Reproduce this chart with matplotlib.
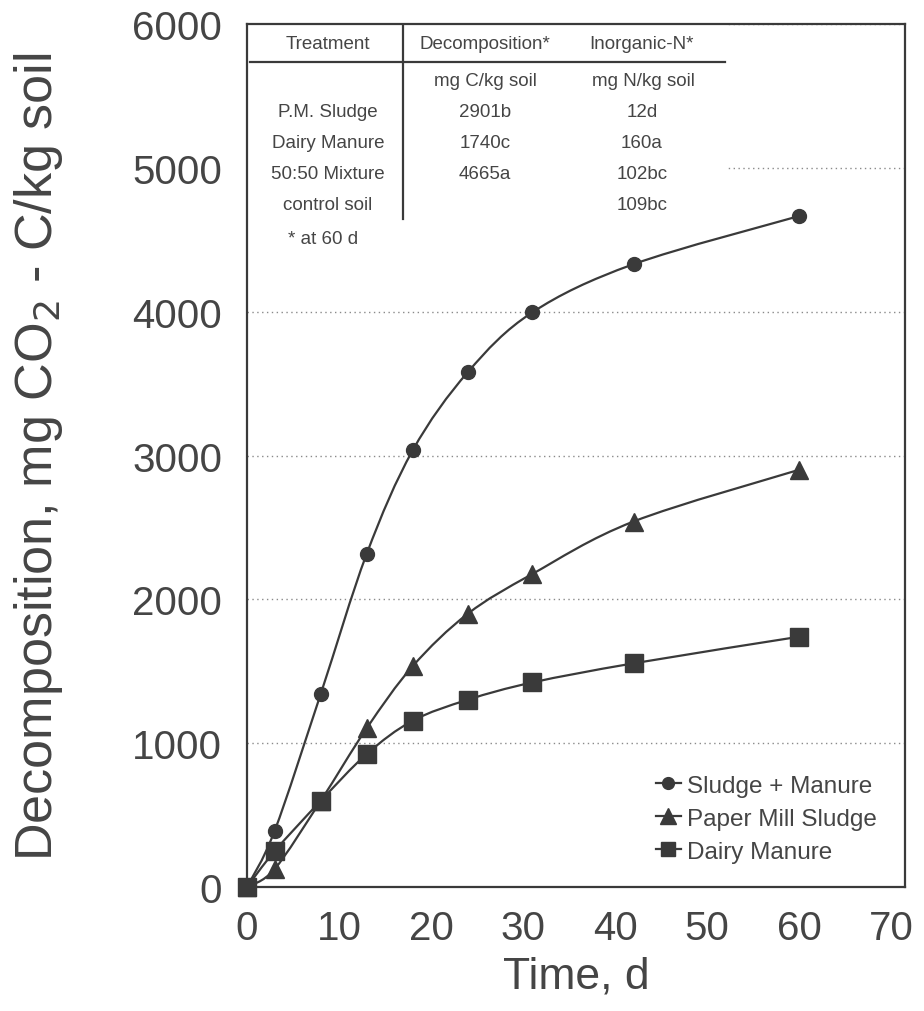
import numpy as np
import matplotlib
matplotlib.use('Agg')
import matplotlib.pyplot as plt
from matplotlib.path import Path
from matplotlib.patches import PathPatch, Rectangle
from matplotlib.lines import Line2D

plt.rcParams['font.family'] = ['Liberation Sans', 'DejaVu Sans']

# data
days = [0, 3, 8, 13, 18, 24, 31, 42, 60]
mix = [0, 390, 1340, 2315, 3035, 3580, 3995, 4330, 4665]
pm_sludge = [0, 125, 598, 1103, 1535, 1900, 2176, 2541, 2901]
dairy = [0, 249, 598, 924, 1156, 1302, 1422, 1555, 1740]
series_names = ['Sludge + Manure', 'Paper Mill Sludge', 'Dairy Manure']

yticks = [0, 1000, 2000, 3000, 4000, 5000, 6000]
xticks = [0, 10, 20, 30, 40, 50, 60, 70]

# inset table
tbl_header = ['Treatment', 'Decomposition*', 'Inorganic-N*']
tbl_units = ['', 'mg C/kg soil', 'mg N/kg soil']
tbl_treat = ['P.M. Sludge', 'Dairy Manure', '50:50 Mixture', 'control soil']
tbl_decomp = ['2901b', '1740c', '4665a', '']
tbl_inorgn = ['12d', '160a', '102bc', '109bc']
tbl_note = '* at 60 d'

ink = '#3a3a3a'
txt = '#454545'


def smooth_path(x, y):
    # catmull-rom through the points, drawn as cubic bezier segments
    x = np.asarray(x, float)
    y = np.asarray(y, float)
    pts = np.column_stack([x, y])
    verts = [pts[0]]
    codes = [Path.MOVETO]
    n = len(pts)
    for i in range(n - 1):
        p0 = pts[i - 1] if i > 0 else pts[i]
        p1 = pts[i]
        p2 = pts[i + 1]
        p3 = pts[i + 2] if i + 2 < n else pts[i + 1]
        c1 = p1 + (p2 - p0) / 6.0
        c2 = p2 - (p3 - p1) / 6.0
        verts += [c1, c2, p2]
        codes += [Path.CURVE4] * 3
    return Path(verts, codes)


fig = plt.figure(figsize=(9.24, 10.12), dpi=100)
ax = fig.add_axes([247 / 924, 124 / 1012, 658 / 924, 863 / 1012])

ax.set_xlim(0, 71.5)
ax.set_ylim(0, 6000)
ax.set_xticks(xticks)
ax.set_yticks(yticks)
ax.tick_params(length=0, colors=txt, labelsize=29)
ax.tick_params(axis='y', pad=18)
ax.tick_params(axis='x', pad=16)
ax.set_axisbelow(True)
ax.grid(axis='y', linestyle=(0, (1, 2.5)), color='#8a8a8a', linewidth=1.0)
for s in ax.spines.values():
    s.set_color(ink)
    s.set_linewidth(1.6)

# white box behind the table hides the grid
ax.add_patch(Rectangle((0, 0.69), 0.728, 0.31, transform=ax.transAxes,
                       facecolor='white', edgecolor='none', zorder=1))

markers = ['o', '^', 's']
msizes = [10, 13, 12.5]
handles = []
for vals, mk, ms, name in zip([mix, pm_sludge, dairy], markers, msizes, series_names):
    ax.add_patch(PathPatch(smooth_path(days, vals), facecolor='none',
                           edgecolor=ink, linewidth=1.6, zorder=2))
    ax.plot(days, vals, linestyle='none', marker=mk, markersize=ms,
            color=ink, zorder=3, clip_on=False)
    handles.append(Line2D([], [], color=ink, linewidth=1.6, marker=mk,
                          markersize=ms * 0.85, label=name))

leg = ax.legend(handles=handles, loc='upper left', bbox_to_anchor=(0.622, 0.13),
                frameon=False, fontsize=17.5, handlelength=1.0, handletextpad=0.25,
                labelspacing=0.45, borderpad=0, borderaxespad=0)
for t in leg.get_texts():
    t.set_color(txt)

ax.set_xlabel('Time, d', fontsize=32, color=txt, labelpad=6)
ax.set_ylabel('Decomposition, mg CO$_2$ - C/kg soil', fontsize=37.5, color=txt,
              labelpad=48)

# table text
tk = dict(transform=ax.transAxes, ha='center', va='center', fontsize=13.5, color=txt)
col_x = [0.123, 0.362, 0.600]
ax.text(col_x[0], 0.977, tbl_header[0], **tk)
ax.text(col_x[1], 0.977, tbl_header[1], **tk)
ax.text(col_x[2], 0.977, tbl_header[2], **tk)
ax.text(col_x[1], 0.934, tbl_units[1], **tk)
ax.text(col_x[2] + 0.003, 0.934, tbl_units[2], **tk)
row_y = [0.899, 0.863, 0.827, 0.791]
for i, ry in enumerate(row_y):
    ax.text(col_x[0], ry, tbl_treat[i], **tk)
    ax.text(col_x[1], ry, tbl_decomp[i], **tk)
    ax.text(col_x[2], ry, tbl_inorgn[i], **tk)
ax.text(0.115, 0.752, tbl_note, **tk)
ax.plot([0.005, 0.726], [0.956, 0.956], transform=ax.transAxes, color=ink,
        linewidth=1.6, zorder=4)
ax.plot([0.237, 0.237], [0.998, 0.774], transform=ax.transAxes, color=ink,
        linewidth=1.6, zorder=4)

fig.savefig('out.png', dpi=100)
